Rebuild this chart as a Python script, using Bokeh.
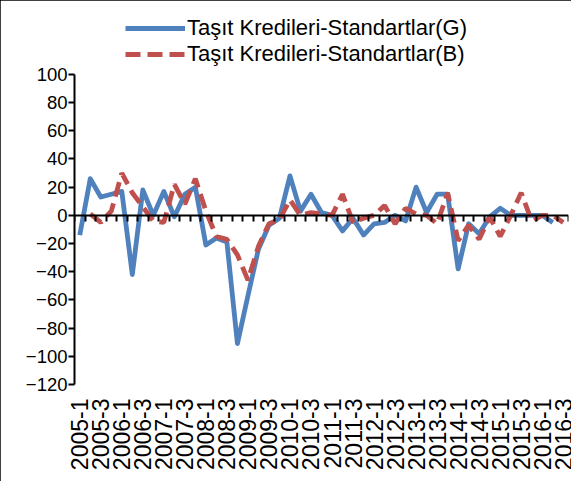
import math
import numpy as np
from bokeh.plotting import figure
from bokeh.models import (Range1d, LinearAxis, FixedTicker, Legend, LegendItem,
                          ColumnDataSource)
from bokeh.embed import file_html
from bokeh.resources import INLINE

# Quarterly categories 2005-1 ... 2016-3
years = list(range(2005, 2017))
quarters = [f"{y}-{q}" for y in years for q in range(1, 5)][:47]

# Taşıt Kredileri-Standartlar (G) and (B)
G = [-14, 26, 13, 15, 17, -42, 18, 0, 17, -1, 15, 20, -21, -16, -19, -91,
     -57, -24, -7, -2, 28, 3, 15, 2, 0, -11, -2, -14, -6, -5, 0, -4, 20, 2,
     15, 15, -38, -6, -13, -1, 5, 0, 0, 0, 0, -5, None]
B = [None, 1, -5, 3, 30, 16, 6, -4, -5, 22, 8, 26, 3, -15, -17, -28, -46,
     -22, -6, -3, 11, 0, 2, 1, 0, 15, -5, -2, 0, 7, -6, 5, 1, 0, -6, 16,
     -18, -7, -17, -1, -15, 0, 16, -4, 0, 0, -5]

y_ticks = [-120, -100, -80, -60, -40, -20, 0, 20, 40, 60, 80, 100]
label_G = "Taşıt Kredileri-Standartlar(G)"
label_B = "Taşıt Kredileri-Standartlar(B)"

FONT = "Liberation Sans"
n = len(quarters)
xs = list(range(n))
src = ColumnDataSource(dict(
    x=xs,
    g=np.array([np.nan if v is None else v for v in G], dtype=float),
    b=np.array([np.nan if v is None else v for v in B], dtype=float),
))

p = figure(width=571, height=481,
           x_range=Range1d(-0.5, n - 0.5), y_range=Range1d(-120, 151),
           output_backend="svg", toolbar_location=None,
           x_axis_type=None, y_axis_type=None,
           min_border_left=74, min_border_right=3,
           min_border_top=2, min_border_bottom=97)
p.outline_line_color = None
p.background_fill_color = "white"
p.border_fill_color = "white"
p.styles = {"outline": "1px solid black", "outline-offset": "-1px"}

# y axis
yax = LinearAxis(ticker=FixedTicker(ticks=y_ticks), bounds=(min(y_ticks), max(y_ticks)),
                 axis_line_width=2, axis_line_color="black",
                 major_tick_line_width=2, major_tick_out=6, major_tick_in=0,
                 minor_tick_line_color=None,
                 major_label_text_font=FONT, major_label_text_font_size="18.5px",
                 major_label_text_color="black", major_label_standoff=1)
p.add_layout(yax, "left")

# zero line axis with category boundary ticks
zax = LinearAxis(fixed_location=0,
                 ticker=FixedTicker(ticks=[i - 0.5 for i in range(n + 1)]),
                 axis_line_width=2, axis_line_color="black",
                 major_tick_line_width=2, major_tick_out=6, major_tick_in=0,
                 minor_tick_line_color=None,
                 major_label_text_alpha=0, major_label_text_font_size="1px")
p.add_layout(zax, "below")

# category labels at the bottom
lab_ticks = list(range(0, n, 2))
xax = LinearAxis(ticker=FixedTicker(ticks=lab_ticks),
                 major_label_overrides={i: quarters[i] for i in lab_ticks},
                 axis_line_color=None, major_tick_line_color=None,
                 major_tick_out=0, major_tick_in=0,
                 minor_tick_line_color=None,
                 major_label_orientation=math.pi / 2,
                 major_label_standoff=14,
                 major_label_text_font=FONT, major_label_text_font_size="23px",
                 major_label_text_color="black")
p.add_layout(xax, "below")

rg = p.line("x", "g", source=src, line_color="#4F81BD", line_width=4.8,
            line_join="round")
rb = p.line("x", "b", source=src, line_color="#C0504D", line_width=4.8,
            line_dash="15 7")

legend = Legend(items=[LegendItem(label=label_G, renderers=[rg]),
                       LegendItem(label=label_B, renderers=[rb])],
                location=(51, 317), background_fill_alpha=0,
                border_line_color=None, padding=0, margin=0, spacing=0,
                glyph_width=60, glyph_height=26, label_height=26,
                label_standoff=2, label_text_font=FONT,
                label_text_font_size="22px", label_text_color="black")
p.add_layout(legend)

open("out.html", "w").write(file_html(p, INLINE))
